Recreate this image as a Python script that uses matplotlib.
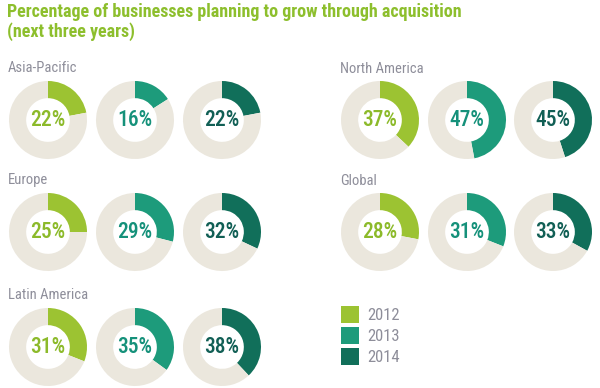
import matplotlib.pyplot as plt
from matplotlib.patches import Patch

plt.rcParams['font.family'] = ['Roboto Condensed', 'Liberation Sans', 'DejaVu Sans']

# data
title = 'Percentage of businesses planning to grow through acquisition\n(next three years)'
years = ['2012', '2013', '2014']
regions = ['Asia-Pacific', 'North America', 'Europe', 'Global', 'Latin America']
asia_pacific = [22, 16, 22]
north_america = [37, 47, 45]
europe = [25, 29, 32]
global_ = [28, 31, 33]
latin_america = [31, 35, 38]
values = [asia_pacific, north_america, europe, global_, latin_america]

ring_colors = ['#9cc332', '#1d9b7b', '#116f5a']
text_colors = ['#8cba2a', '#15917a', '#115f55']
track = '#ebe7dd'
label_gray = '#8e8e9a'

W, H = 600, 388
fig = plt.figure(figsize=(6, 3.88), dpi=100)
ax = fig.add_axes([0, 0, 1, 1])

# layout (pixel positions from top-left)
group_x = {0: [48, 135, 222], 1: [380, 467, 553]}
row_y = [120, 232, 347]
label_pos = {0: (8, 68), 1: (340, 69)}
r = 39

for i, (name, vals) in enumerate(zip(regions, values)):
    col = i % 2
    row = i // 2
    lx, ly = label_pos[col]
    ax.text(lx, H - (ly + (row_y[row] - 120)), name, color=label_gray,
            fontsize=10.5, va='center', ha='left')
    for j, v in enumerate(vals):
        cx = group_x[col][j]
        cy = H - row_y[row]
        ax.pie([v, 100 - v], colors=[ring_colors[j], track], radius=r,
               center=(cx, cy), startangle=90, counterclock=False,
               wedgeprops=dict(width=r * 0.44, linewidth=0))
        ax.text(cx, cy, f'{v}%', color=text_colors[j], fontsize=15.5,
                fontweight='medium', ha='center', va='center')

ax.text(7, H - 3, title, color='#8dbf2d', fontsize=13, fontweight='bold',
        ha='left', va='top', linespacing=1.1)

handles = [Patch(facecolor=c, edgecolor='none') for c in ring_colors]
ax.legend(handles, years, loc='upper left', bbox_to_anchor=(326, H - 291),
          bbox_transform=ax.transData, frameon=False, fontsize=12,
          labelcolor=label_gray, handlelength=1.1, handleheight=1.15,
          handletextpad=0.45, labelspacing=0.25)

ax.set_xlim(0, W)
ax.set_ylim(0, H)
ax.set_aspect('equal')
ax.axis('off')

fig.savefig('out.png', dpi=100, facecolor='white')
